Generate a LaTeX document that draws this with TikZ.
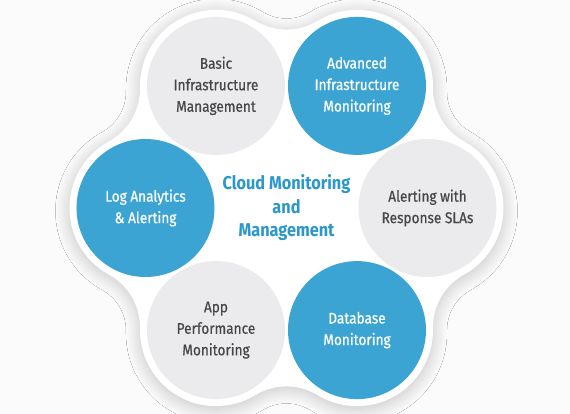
\documentclass[tikz,border=0pt]{standalone}
\usepackage{fontspec}
\setmainfont{Fira Sans}[FakeStretch=0.88]
\newfontfamily\bubfont{Fira Sans}[FakeStretch=0.88, FakeBold=0.6]
\usetikzlibrary{calc,shadows.blur}
\definecolor{cblue}{HTML}{3BA4D2}
\definecolor{cgrey}{HTML}{EBEBED}
\definecolor{ctext}{HTML}{47474A}
\definecolor{ctitle}{HTML}{2B98C8}
\definecolor{bgcol}{HTML}{FBFBFB}
\begin{document}
\begin{tikzpicture}[x=1pt,y=1pt,
  bubble/.style={circle, minimum size=138pt, inner sep=0pt, align=center,
    font=\bubfont\fontsize{15.5}{21.5}\selectfont},
  greybub/.style={bubble, fill=cgrey, text=ctext},
  bluebub/.style={bubble, fill=cblue, text=white},
  blob/.style={fill=white, blur shadow={shadow xshift=0pt, shadow yshift=-3pt,
    shadow blur radius=14pt, shadow blur steps=20, shadow opacity=22}},
  title/.style={align=center, text=ctitle, font=\fontsize{18.5}{23.5}\selectfont\bfseries}
]
\fill[bgcol] (-286.5,-206) rectangle (283.5,208);
\useasboundingbox (-286.5,-206) rectangle (283.5,208);
% flower-shaped white backdrop
\path[blob] ($(0:141)+(-61.23:76)$)
  \foreach \t in {0,60,...,300} {
    arc[start angle=\t-61.23, end angle=\t+61.23, radius=76]
    arc[start angle=\t+241.23, end angle=\t+178.77, radius=60]
  } -- cycle;
\node[greybub] (alert) at (0:141) {Alerting with\\Response SLAs};
\node[bluebub] (adv) at (60:141) {Advanced\\Infrastructure\\Monitoring};
\node[greybub] (basic) at (120:141) {Basic\\Infrastructure\\Management};
\node[bluebub] (log) at (180:141) {Log Analytics\\\& Alerting};
\node[greybub] (app) at (240:141) {App\\Performance\\Monitoring};
\node[bluebub] (db) at (300:141) {Database\\Monitoring};
\node[title] (center) at (0,0) {Cloud Monitoring\\and\\Management};
\end{tikzpicture}
\end{document}
